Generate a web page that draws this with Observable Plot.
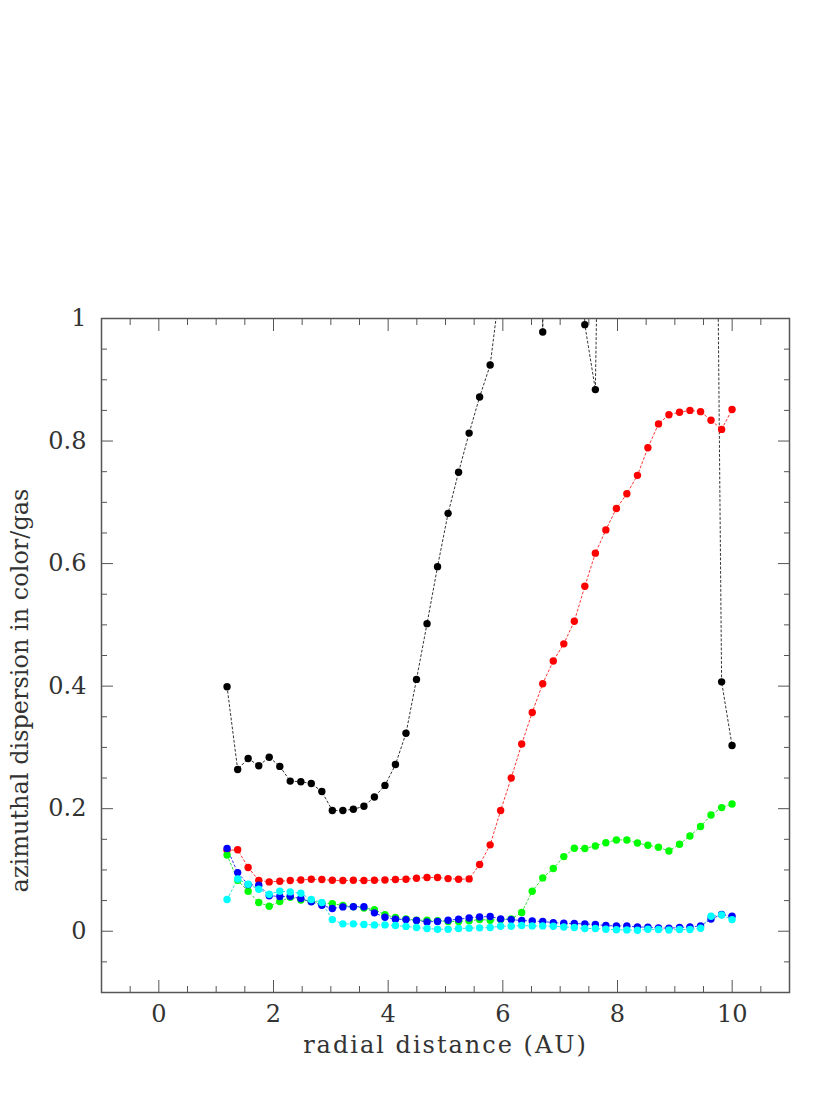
<!DOCTYPE html>
<html>
<head>
<meta charset="utf-8">
<script src="https://cdn.jsdelivr.net/npm/d3@7"></script>
<script src="https://cdn.jsdelivr.net/npm/@observablehq/plot@0.6"></script>
<style>
  body { margin: 0; background: #fff; }
  #chart svg { display: block; }
</style>
</head>
<body>
<div id="chart"></div>
<script>
// radial distance (AU) of each sample
const radius = [1.19, 1.375, 1.558, 1.743, 1.925, 2.11, 2.292, 2.477, 2.659, 2.843,
  3.026, 3.21, 3.393, 3.577, 3.76, 3.944, 4.127, 4.311, 4.494, 4.678,
  4.861, 5.045, 5.228, 5.412, 5.595, 5.779, 5.962, 6.146, 6.329, 6.513,
  6.696, 6.88, 7.063, 7.247, 7.43, 7.614, 7.797, 7.981, 8.163, 8.348,
  8.53, 8.715, 8.897, 9.082, 9.264, 9.449, 9.631, 9.816, 9.998];

const blackSeries = [0.399, 0.264, 0.282, 0.270, 0.284, 0.269, 0.245, 0.244, 0.241, 0.228,
  0.197, 0.197, 0.199, 0.204, 0.219, 0.238, 0.272, 0.323, 0.411, 0.502,
  0.595, 0.682, 0.749, 0.813, 0.872, 0.924, 1.06, 1.25, 1.6, 2.4,
  0.978, 2.8, 2.5, 1.6, 0.99, 0.884, 2.0, 2.4, 2.6, 2.7,
  2.8, 2.9, 2.9, 2.8, 2.7, 2.5, 2.29, 0.407, 0.303];

const redSeries = [0.132, 0.133, 0.104, 0.083, 0.0805, 0.0816, 0.0827, 0.0837, 0.0848, 0.0843,
  0.0832, 0.0827, 0.0832, 0.0827, 0.0832, 0.0837, 0.0843, 0.0848, 0.0865, 0.0876,
  0.0876, 0.0859, 0.0848, 0.0854, 0.109, 0.141, 0.197, 0.250, 0.3055, 0.357,
  0.404, 0.441, 0.469, 0.506, 0.563, 0.617, 0.655, 0.690, 0.714, 0.744,
  0.789, 0.828, 0.843, 0.847, 0.850, 0.848, 0.834, 0.819, 0.8515];

const greenSeries = [0.1245, 0.083, 0.0653, 0.0468, 0.0408, 0.0484, 0.0555, 0.051, 0.049, 0.046,
  0.045, 0.042, 0.040, 0.038, 0.0353, 0.027, 0.0223, 0.020, 0.018, 0.018,
  0.017, 0.016, 0.016, 0.017, 0.019, 0.018, 0.019, 0.020, 0.0305, 0.0653,
  0.087, 0.1023, 0.1218, 0.1354, 0.1349, 0.1392, 0.1445, 0.149, 0.149, 0.144,
  0.1403, 0.137, 0.131, 0.1419, 0.1555, 0.1708, 0.1898, 0.2018, 0.2077];

const blueSeries = [0.135, 0.0957, 0.076, 0.075, 0.058, 0.0566, 0.057, 0.0533, 0.048, 0.0424,
  0.037, 0.0397, 0.040, 0.040, 0.030, 0.0228, 0.0196, 0.019, 0.0174, 0.0152,
  0.016, 0.018, 0.0196, 0.0217, 0.0234, 0.024, 0.0201, 0.019, 0.0174, 0.0168,
  0.0158, 0.0141, 0.013, 0.0125, 0.012, 0.011, 0.0093, 0.0087, 0.0087, 0.007,
  0.0065, 0.0054, 0.0049, 0.006, 0.007, 0.0087, 0.020, 0.0272, 0.0245];

const cyanSeries = [0.0517, 0.0853, 0.0767, 0.0685, 0.0604, 0.0653, 0.0642, 0.062, 0.0517, 0.047,
  0.019, 0.012, 0.012, 0.011, 0.0103, 0.0103, 0.0093, 0.0079, 0.006, 0.0044,
  0.0033, 0.0033, 0.0044, 0.005, 0.0055, 0.006, 0.0082, 0.0082, 0.0093, 0.0087,
  0.0087, 0.0082, 0.007, 0.006, 0.0044, 0.0044, 0.0033, 0.0025, 0.0022, 0.0016,
  0.0033, 0.0027, 0.0022, 0.0027, 0.0027, 0.0049, 0.0245, 0.0266, 0.019];

const seriesNames = ["black", "red", "green", "blue", "cyan"];
const seriesColors = ["#000000", "#ff0000", "#00ff00", "#0000ff", "#00ffff"];
const lineColors = ["#333333", "#ff3333", "#33dd33", "#3333ff", "#33dddd"];
const seriesValues = [blackSeries, redSeries, greenSeries, blueSeries, cyanSeries];

const xMajor = [0, 2, 4, 6, 8, 10];
const xMinor = d3.range(-0.5, 11, 0.5).filter(v => !xMajor.includes(v));
const yMajor = [0, 0.2, 0.4, 0.6, 0.8, 1];
const yMinor = d3.range(-0.05, 1, 0.05).map(v => +v.toFixed(2)).filter(v => !yMajor.some(m => Math.abs(m - v) < 1e-9));

const xLabel = "radial distance (AU)";
const yLabel = "azimuthal dispersion in color/gas";

const rows = seriesNames.map((name, k) => radius.map((r, i) => ({series: name, k, r, v: seriesValues[k][i]})));

const font = "'DejaVu Serif', serif";
const axisColor = "#555";

const marks = [];
rows.forEach((data, k) => {
  marks.push(Plot.line(data, {x: "r", y: "v", stroke: lineColors[k], strokeWidth: 1, strokeDasharray: "2,2.5", clip: true}));
});
rows.forEach((data, k) => {
  marks.push(Plot.dot(data, {x: "r", y: "v", r: 3.7, fill: seriesColors[k], stroke: "none", clip: true}));
});

const tickAxes = [
  Plot.axisX({anchor: "bottom", ticks: xMajor, tickSize: 0, tickPadding: 12, fontSize: 24, label: null, color: "#333"}),
  Plot.axisY({anchor: "left", ticks: yMajor, tickSize: 0, tickPadding: 15, fontSize: 24, label: null, color: "#333", tickFormat: d => d === 0 ? "0" : d === 1 ? "1" : d3.format(".1f")(d)}),
  Plot.axisX({anchor: "bottom", ticks: xMajor, tickSize: -12, tickFormat: () => "", label: null, stroke: axisColor}),
  Plot.axisX({anchor: "bottom", ticks: xMinor, tickSize: -6, tickFormat: () => "", label: null, stroke: axisColor}),
  Plot.axisX({anchor: "top", ticks: xMajor, tickSize: -12, tickFormat: () => "", label: null, stroke: axisColor}),
  Plot.axisX({anchor: "top", ticks: xMinor, tickSize: -6, tickFormat: () => "", label: null, stroke: axisColor}),
  Plot.axisY({anchor: "left", ticks: yMajor, tickSize: -12, tickFormat: () => "", label: null, stroke: axisColor}),
  Plot.axisY({anchor: "left", ticks: yMinor, tickSize: -6, tickFormat: () => "", label: null, stroke: axisColor}),
  Plot.axisY({anchor: "right", ticks: yMajor, tickSize: -12, tickFormat: () => "", label: null, stroke: axisColor}),
  Plot.axisY({anchor: "right", ticks: yMinor, tickSize: -6, tickFormat: () => "", label: null, stroke: axisColor})
];

const chart = Plot.plot({
  width: 830,
  height: 1111,
  marginLeft: 101,
  marginRight: 41,
  marginTop: 318,
  marginBottom: 119,
  style: {fontFamily: font, background: "#fff"},
  x: {domain: [-1, 11]},
  y: {domain: [-0.1, 1]},
  marks: [
    ...marks,
    ...tickAxes,
    Plot.frame({stroke: axisColor, strokeWidth: 1.5}),
    Plot.text([xLabel], {text: d => d, frameAnchor: "bottom", textAnchor: "middle", dy: 60, fontSize: 24, fill: "#333", fontFamily: font, style: "letter-spacing: 2px"}),
    Plot.text([yLabel], {text: d => d, frameAnchor: "left", textAnchor: "middle", dx: -81, dy: 35, rotate: -90, fontSize: 24, fill: "#333", fontFamily: font})
  ]
});
chart.querySelectorAll("text").forEach(t => {
  if (t.textContent === xLabel) t.style.letterSpacing = "2px";
});
document.getElementById("chart").appendChild(chart);
</script>
</body>
</html>
